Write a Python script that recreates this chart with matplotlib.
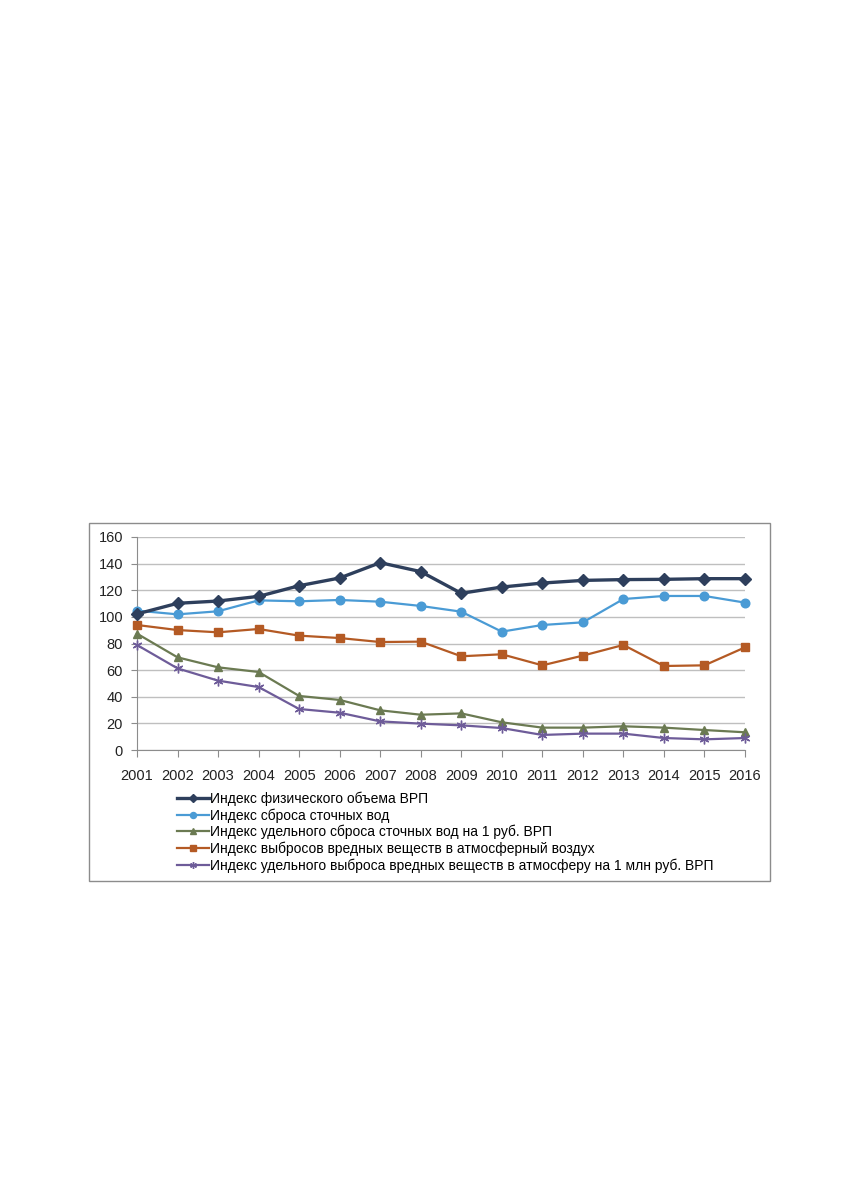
import matplotlib
matplotlib.use('Agg')
import matplotlib.pyplot as plt
from matplotlib.patches import Rectangle

plt.rcParams['font.family'] = ['Liberation Sans', 'DejaVu Sans']

years = list(range(2001, 2017))

# индексы, читаются с графика
vrp = [102.2, 110.2, 111.9, 115.4, 123.4, 129.2, 140.7, 134.0,
       117.7, 122.4, 125.4, 127.4, 128.0, 128.2, 128.7, 128.7]
stok = [104.7, 101.9, 104.2, 112.4, 111.7, 112.7, 111.4, 108.2,
        103.9, 88.9, 93.9, 95.9, 113.4, 115.7, 115.7, 110.7]
stok_ud = [87.4, 69.6, 62.1, 58.6, 40.6, 37.6, 29.8, 26.5,
           27.5, 20.8, 16.8, 16.8, 17.8, 16.8, 15.0, 13.3]
vybr = [93.9, 90.1, 88.4, 90.9, 85.9, 84.1, 81.1, 81.4,
        70.4, 71.9, 63.6, 70.9, 78.9, 63.1, 63.6, 77.1]
vybr_ud = [78.9, 61.3, 52.1, 47.3, 30.8, 28.0, 21.5, 19.8,
           18.5, 16.5, 11.3, 12.3, 12.3, 9.0, 8.0, 9.0]

labels = ['Индекс физического объема ВРП',
          'Индекс сброса сточных вод',
          'Индекс удельного сброса сточных вод на 1 руб. ВРП',
          'Индекс выбросов вредных веществ в атмосферный воздух',
          'Индекс удельного выброса вредных веществ в атмосферу на 1 млн руб. ВРП']

fig = plt.figure(figsize=(8.5, 11.91), dpi=100)
ax = fig.add_axes([137/850, 1 - 750/1191, (745 - 137)/850, (750 - 537)/1191])

# рамка вокруг диаграммы
fig.patches.append(Rectangle((89/850, 1 - 881/1191), (770 - 89)/850, (881 - 523)/1191,
                             transform=fig.transFigure, fill=False,
                             edgecolor='#8c8c8c', linewidth=1.0))

h1, = ax.plot(years, vrp, color='#2e3f5c', lw=2.4, marker='D', ms=6.5,
              zorder=5, clip_on=False)
h2, = ax.plot(years, stok, color='#4a9bd5', lw=1.6, marker='o', ms=6.2,
              zorder=4, clip_on=False)
h3, = ax.plot(years, stok_ud, color='#6b7a52', lw=1.6, marker='^', ms=6.2,
              zorder=4, clip_on=False)
h4, = ax.plot(years, vybr, color='#b45a24', lw=1.6, marker='s', ms=5.8,
              zorder=4, clip_on=False)
h5, = ax.plot(years, vybr_ud, color='#6e5c99', lw=1.6, marker=(6, 2, 0), ms=7,
              mew=1.0, zorder=4, clip_on=False)

ax.set_xlim(2001, 2016)
ax.set_ylim(0, 160)
ax.set_yticks(range(0, 161, 20))
ax.set_xticks(years)
ax.grid(axis='y', color='#bfbfbf', lw=1.0)
ax.set_axisbelow(True)
for s in ['top', 'right']:
    ax.spines[s].set_visible(False)
for s in ['left', 'bottom']:
    ax.spines[s].set_color('#8c8c8c')
ax.tick_params(axis='both', colors='#8c8c8c', labelcolor='#222222', labelsize=10.5)
ax.tick_params(axis='y', length=4, pad=6)
ax.tick_params(axis='x', length=5, pad=9)

handles = [h1, h2, h3, h4, h5]
leg = fig.legend(handles, labels, loc='upper left',
                 bbox_to_anchor=(171/850, 1 - 786/1191), frameon=False,
                 fontsize=10, handlelength=2.3, handletextpad=0.1,
                 labelspacing=0.16, markerscale=0.7, borderaxespad=0)

fig.savefig('out.png', dpi=100)
